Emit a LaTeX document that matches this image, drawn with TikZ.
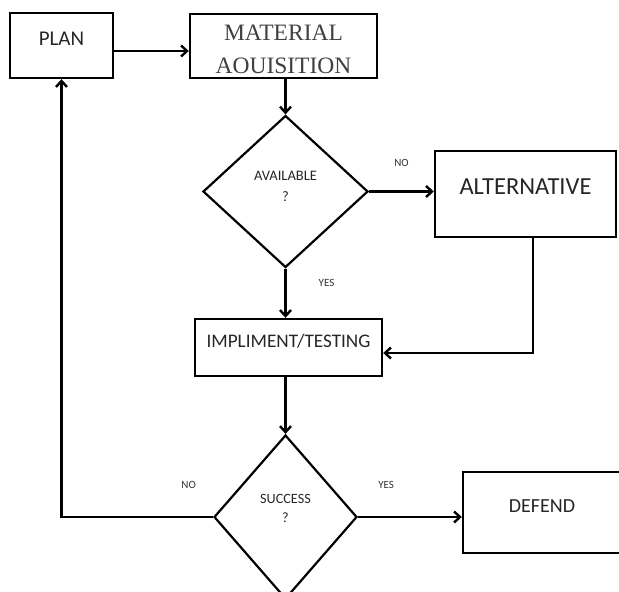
\documentclass[tikz,border=0pt]{standalone}
\usepackage{fontspec}
\setmainfont{Carlito}
\newfontfamily\titlefont{Liberation Serif}
\usetikzlibrary{positioning, shapes.geometric, arrows.meta}

\begin{document}
\begin{tikzpicture}[
  x=1pt, y=-1pt,
  block/.style={draw, line width=2.4pt, inner sep=0pt, text=black!85},
  decision/.style={draw, diamond, line width=2.2pt, inner sep=0pt, align=center, text=black!85},
  arr/.style={-{Straight Barb[length=6pt, width=11pt]}, line width=2.4pt},
  tag/.style={font=\fontsize{11}{13}\selectfont, text=black!80}
]
  \useasboundingbox (0,0) rectangle (619,592);
  \clip (0,0) rectangle (619,592);

  % Row 1 — start
  \node[block, minimum width=103pt, text height=32.5pt, text depth=32.5pt, font=\fontsize{21}{24}\selectfont] (plan) at (61.5,45.5) {PLAN};
  \node[block, minimum width=187pt, minimum height=64pt, align=center, text=black!75, font=\titlefont\fontsize{23.5}{33}\selectfont] (material) at (283.5,46) {\rule{0pt}{23pt}MATERIAL\\AOUISITION};

  % Row 2 — check
  \node[decision, minimum width=165pt, minimum height=152pt, font=\fontsize{14.5}{21}\selectfont] (avail) at (285.5,191.5) {AVAILABLE\\?\rule[-10pt]{0pt}{0pt}};
  \node[block, minimum width=181pt, text height=43pt, text depth=43pt, font=\fontsize{24.5}{28}\selectfont] (alt) at (525.5,194) {ALTERNATIVE};

  % Row 3 — work
  \node[block, minimum width=187pt, text height=28.5pt, text depth=28.5pt, font=\fontsize{19.2}{24}\selectfont] (impl) at (288.5,347.5) {IMPLIMENT/TESTING};

  % Row 4 — result
  \node[decision, minimum width=143pt, minimum height=164pt, font=\fontsize{14.2}{19}\selectfont] (success) at (285.5,517) {SUCCESS\\?\rule[-18pt]{0pt}{0pt}};
  \node[block, minimum width=158pt, text height=40.5pt, text depth=40.5pt, font=\fontsize{20}{24}\selectfont] (defend) at (542,512.5) {DEFEND};

  % arrows
  \draw[arr] ([yshift=-5.5pt]plan.east) -- ([yshift=-5.5pt]plan.east -| material.west);
  \draw[arr] (avail.north |- material.south) -- (avail.north);
  \draw[arr] (avail.east) -- node[tag, yshift=29pt]{NO} (avail.east -| alt.west);
  \draw[arr] (avail.south) -- node[tag, pos=0.3, xshift=41pt]{YES} (avail.south |- impl.north);
  \draw[arr] ([xshift=7.5pt]alt.south) |- ([yshift=-5.5pt]impl.east);
  \draw[arr] (success.north |- impl.south) -- (success.north);
  \draw[arr] (success.east) -- node[tag, pos=0.27, yshift=32pt]{YES} (success.east -| defend.west);
  \draw[arr] (success.west) -- node[tag, pos=0.16, yshift=32pt]{NO} (success.west -| plan.south) -- (plan.south);
\end{tikzpicture}
\end{document}
